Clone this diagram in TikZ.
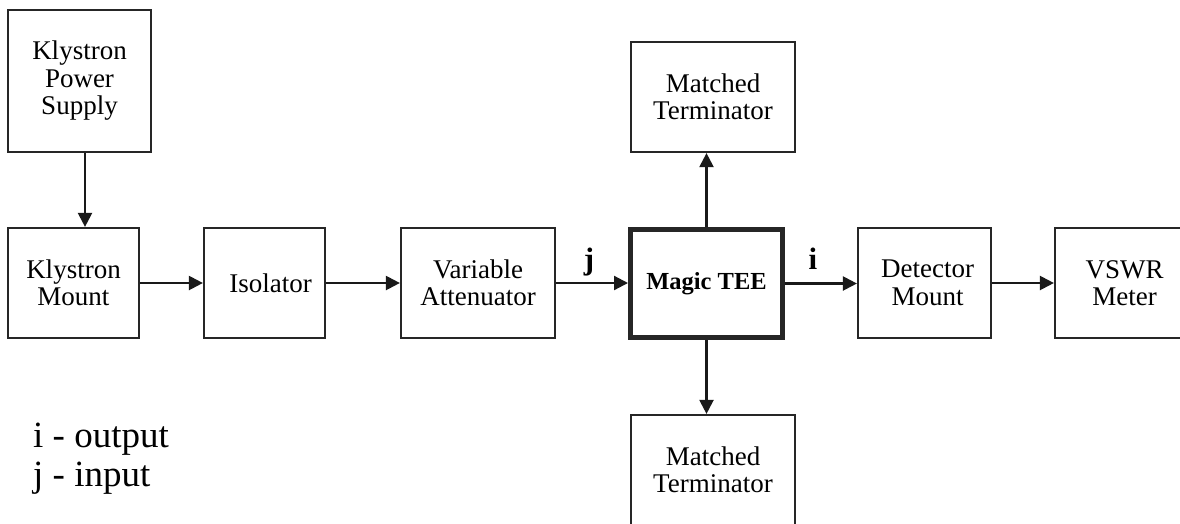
\documentclass[tikz,border=0pt]{standalone}
\usepackage{fontspec}
\setmainfont{Liberation Serif}
\usetikzlibrary{arrows.meta}
\begin{document}
\begin{tikzpicture}[x=1pt,y=-1pt,
  blk/.style={draw=black!85, line width=2.2pt, fill=white, rectangle, inner sep=0pt, align=center,
    font=\fontsize{27}{27.5}\selectfont},
  thickblk/.style={blk, line width=5pt, font=\bfseries\fontsize{24.5}{26}\selectfont},
  arr/.style={draw=black!90, line width=2.2pt, -{Triangle[length=14pt,width=14pt]}},
  port/.style={font=\bfseries\fontsize{31}{31}\selectfont, anchor=base, inner sep=0pt},
  legend/.style={font=\fontsize{37}{40}\selectfont, anchor=base west, inner sep=0pt}]
\useasboundingbox (0,0) rectangle (1180,523);
\clip (0,0) rectangle (1180,523);
\fill[white] (0,0) rectangle (1180,523);

\node[blk, minimum width=143pt, minimum height=142pt] (kps) at (79.5,81) {Klystron\\Power\\Supply};
\node[blk, minimum width=131pt, minimum height=110pt] (km) at (73.5,283) {Klystron\\Mount};
\node[blk, minimum width=121pt, minimum height=110pt] (iso) at (264.5,283) {\hspace*{12pt}Isolator};
\node[blk, minimum width=154pt, minimum height=110pt] (va) at (478,283) {Variable\\Attenuator};
\node[thickblk, minimum width=152pt, minimum height=108pt] (tee) at (706.5,283.5) {Magic TEE};
\node[blk, minimum width=164pt, minimum height=110pt] (mtop) at (713,97) {Matched\\Terminator};
\node[blk, minimum width=164pt, minimum height=110pt] (mbot) at (713,470) {Matched\\Terminator};
\node[blk, minimum width=133pt, minimum height=110pt] (det) at (924.5,283) {\hspace*{6pt}Detector\\\hspace*{6pt}Mount};
\node[blk, minimum width=139pt, minimum height=110pt] (vswr) at (1124.5,283) {VSWR\\Meter};

\draw[arr] ([xshift=5.5pt]kps.south) -- ([xshift=11.5pt]km.north);
\draw[arr] (km.east) -- (iso.west);
\draw[arr] (iso.east) -- (va.west);
\draw[arr] (va.east) -- (va.east -| tee.west);
\draw[arr] (tee.east) -- (tee.east -| det.west);
\draw[arr] (det.east) -- (det.east -| vswr.west);
\draw[arr] (tee.north) -- (tee.north |- mtop.south);
\draw[arr] (tee.south) -- (tee.south |- mbot.north);

\node[port] (jl) at (589,269) {j};
\node[port] (il) at (813,269) {i};

\node[legend] (leg1) at (33,447) {i - output};
\node[legend] (leg2) at (33,486) {j - input};
\end{tikzpicture}
\end{document}
